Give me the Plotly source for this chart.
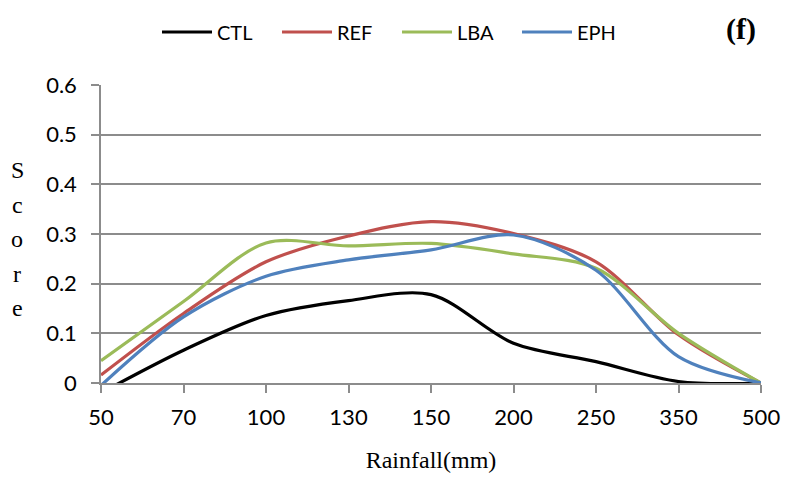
import plotly.graph_objects as go

categories = ["50", "70", "100", "130", "150", "200", "250", "350", "500"]
ctl = [-0.02, 0.066, 0.136, 0.166, 0.178, 0.08, 0.043, 0.003, 0.0]
ref = [0.016, 0.14, 0.244, 0.296, 0.325, 0.301, 0.244, 0.097, 0.0]
lba = [0.045, 0.164, 0.282, 0.276, 0.281, 0.26, 0.231, 0.1, 0.0]
eph = [-0.005, 0.133, 0.215, 0.248, 0.268, 0.298, 0.227, 0.053, 0.0]
series_names = ["CTL", "REF", "LBA", "EPH"]
colors = ["#000000", "#C0504D", "#9BBB59", "#4F81BD"]
ytitle_letters = ["S", "c", "o", "r", "e"]

fig = go.Figure()
for name, vals, col in zip(series_names, [ctl, ref, lba, eph], colors):
    fig.add_trace(go.Scatter(
        x=categories, y=vals, name=name, mode="lines",
        line=dict(color=col, width=3.2, shape="spline", smoothing=0.9),
    ))

tick_font = dict(family="Lato, Liberation Sans, sans-serif", size=22, color="#000")
grid_col = "#8C8C8C"

L, R, T, B = 101, 26, 85, 95
H = 478 - T - B

annotations = []
# stacked vertical axis title "Score"
for i, ch in enumerate(ytitle_letters):
    ypix = 170 + i * 34.5
    annotations.append(dict(text=ch, xref="paper", yref="paper",
                            x=(17 - L) / 660, y=(478 - B - ypix) / H,
                            xanchor="center", yanchor="middle", showarrow=False,
                            font=dict(family="Liberation Serif, serif", size=24, color="#000")))
annotations.append(dict(text="<b>(f)</b>", xref="paper", yref="paper",
                        x=(741 - L) / 660, y=(478 - B - 29) / H,
                        xanchor="center", yanchor="middle", showarrow=False,
                        font=dict(family="Liberation Serif, serif", size=30, color="#000")))

fig.update_layout(
    width=787, height=478,
    margin=dict(l=L, r=R, t=T, b=B, autoexpand=False),
    paper_bgcolor="white", plot_bgcolor="white",
    showlegend=True,
    legend=dict(orientation="h", x=(157 - L) / 660, y=(478 - B - 32) / H,
                xanchor="left", yanchor="middle",
                font=dict(family="Lato, Liberation Sans, sans-serif", size=20, color="#000"),
                entrywidth=55, entrywidthmode="pixels", itemwidth=50,
                bgcolor="rgba(0,0,0,0)"),
    xaxis=dict(type="category", range=[0, 8], showgrid=False, showline=True,
               linecolor=grid_col, linewidth=1.5, ticks="outside", ticklen=8,
               tickcolor=grid_col, tickwidth=1.5, tickfont=tick_font, zeroline=False,
               ticklabelstandoff=6,
               title=dict(text="Rainfall(mm)", font=dict(family="Liberation Serif, serif", size=24, color="#000"), standoff=22)),
    yaxis=dict(range=[0, 0.6], dtick=0.1, showgrid=True, gridcolor=grid_col, gridwidth=1.5,
               showline=True, linecolor=grid_col, linewidth=1.5, ticks="outside", ticklen=8,
               tickcolor=grid_col, tickwidth=1.5, tickfont=tick_font, zeroline=False,
               ticklabelstandoff=10, tickformat="~g"),
    annotations=annotations,
)

fig.write_html("out.html")
